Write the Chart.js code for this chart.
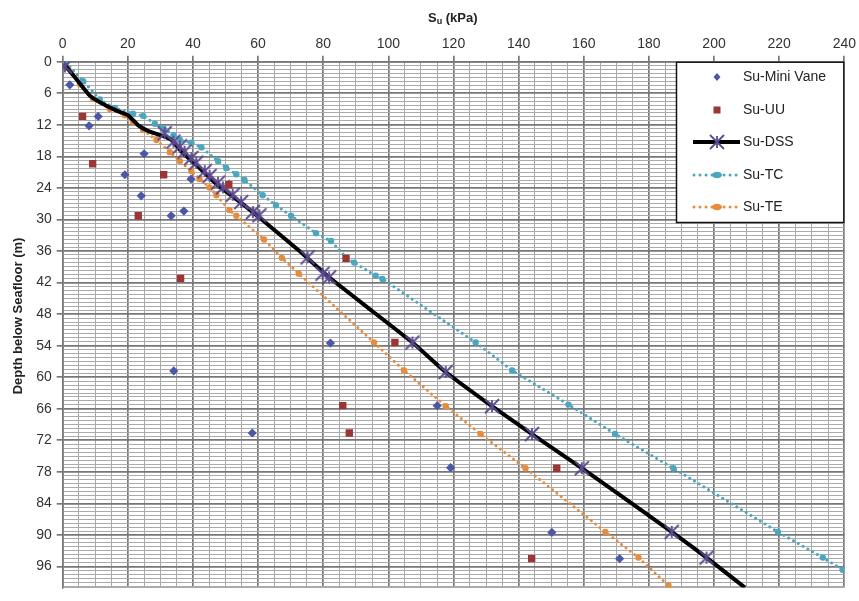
<!DOCTYPE html>
<html><head><meta charset="utf-8">
<script src="https://cdn.jsdelivr.net/npm/chart.js@4.4.0/dist/chart.umd.min.js"></script>
<style>html,body{margin:0;padding:0;background:#fff;}#wrap{width:859px;height:601px;}</style>
</head><body><div id="wrap"><canvas id="c" width="859" height="601"></canvas></div>
<script>
// ---- tick labels ----
const xTickLabels = [0,20,40,60,80,100,120,140,160,180,200,220,240];
const yTickLabels = [0,6,12,18,24,30,36,42,48,54,60,66,72,78,84,90,96];

// ---- series (kPa, depth m) ----
const miniVaneKPa   = [2.2,10.9,8.1,25,19.1,39.4,24.1,33.3,37.2,82.2,34.1,115,58.2,119.1,150.2,171];
const miniVaneDepth = [4.4,10.4,12.2,17.5,21.5,22.3,25.5,29.3,28.4,53.5,58.8,65.4,70.6,77.2,89.5,94.5];

const uuKPa   = [6.1,9.2,31,51,23.2,87,36.2,102,86,88,151.7,144];
const uuDepth = [10.4,19.4,21.5,23.4,29.3,37.4,41.2,53.4,65.4,70.6,77.3,94.5];

const dssLineKPa   = [0.5,4.3,8.4,11.4,16.5,20.1,23,26.7,30.8,33.4,36.9,42,47.2,54.3,61.5,72.7,81.8,95,107.4,117.6,131.8,144.1,159.4,187,197.7,209.5];
const dssLineDepth = [0.5,3.4,6.5,7.7,9.3,10.2,12,13.3,14.1,14.9,17.4,20.2,23.3,26.6,30.2,36,41,47.4,53.4,59,65.5,70.8,77.3,89.4,94.3,100];

const dssMarkKPa   = [0.7,31.3,34,36,37.4,39.5,41,43.6,45.1,47.7,49.2,52.2,54.8,58.4,60.4,75.2,79.8,81.8,107.4,117.6,131.8,144.1,159.4,187,197.7];
const dssMarkDepth = [0.9,13.6,15.2,16.1,17.1,18.3,19.2,20.8,21.7,23,23.9,25.3,26.7,28.6,29.2,37.2,40.3,41,53.4,59,65.5,70.8,77.3,89.4,94.3];

const tcKPa   = [1,6.3,11.4,16,21.6,24.7,28.3,31,34,36,39.5,42.6,47.7,50.2,53.3,55.8,61.4,65.5,70.1,77.8,82.4,87,89.5,96.1,98.2,126.8,138,155.3,169.6,187.5,219.6,233.4,239.5];
const tcDepth = [0.2,3.7,7.2,8.8,9.9,10.3,11.8,12.7,14,14.9,15.4,16.3,18.9,20.2,21.4,22.5,25.4,27.3,29.3,32.6,34.1,37.2,38.2,40.7,41.3,53.4,58.7,65.2,70.8,77.3,89.4,94.3,96.6];

const teKPa   = [1.7,5.3,9.4,14.5,19.1,21.6,24.7,28.8,32.9,36,39.5,42,45.1,47.2,51.2,53.3,61.8,67.3,72.5,95.6,104.8,117.6,128.3,142.1,166.6,176.8,186];
const teDepth = [1.2,4.3,7.1,9,10.2,11.5,13,14.9,17.2,18.9,20.8,22.3,23.9,25.4,28.2,29.3,33.8,37.3,40.3,53.4,58.7,65.5,70.8,77.3,89.4,94.3,99.6];

const seriesNames = ['Su-Mini Vane','Su-UU','Su-DSS','Su-TC','Su-TE'];

const pts = (xs, ys) => xs.map((x, i) => ({x, y: ys[i]}));

const C_MV = '#4a58a6', C_UU = '#9a3634', C_DSS = '#5b4a90', C_TC = '#4ba6bf', C_TE = '#e68c3c';

function makeStar(color, size) {
  const c = document.createElement('canvas');
  c.width = size; c.height = size;
  const g = c.getContext('2d');
  g.strokeStyle = color; g.lineWidth = 1.8;
  const a = 2, b = size - 2, m = size / 2;
  g.beginPath();
  g.moveTo(a, a); g.lineTo(b, b);
  g.moveTo(b, a); g.lineTo(a, b);
  g.moveTo(m, a + 1); g.lineTo(m, b - 1);
  g.stroke();
  return c;
}
const starImg = makeStar(C_DSS, 18);

const near = (v, arr) => arr.some(a => Math.abs(a - v) < 1e-6);

const customDraw = {
  id: 'customDraw',
  afterDatasetsDraw(chart) {
    const ctx = chart.ctx;
    const L = 676, T = chart.chartArea.top, R = chart.chartArea.right, B = 223;
    ctx.save();
    ctx.fillStyle = '#ffffff';
    ctx.fillRect(L, T, R - L, B - T);
    ctx.strokeStyle = '#111'; ctx.lineWidth = 1.5;
    ctx.strokeRect(L + 0.5, T + 0.5, R - L - 1, B - T - 1);
    const ys = [77, 110, 142, 175, 207];
    const mx = 717, x0 = 693, x1 = 740, tx = 743;
    ctx.fillStyle = C_MV;
    ctx.beginPath(); ctx.moveTo(mx, ys[0] - 4); ctx.lineTo(mx + 3.5, ys[0]); ctx.lineTo(mx, ys[0] + 4); ctx.lineTo(mx - 3.5, ys[0]); ctx.closePath(); ctx.fill();
    ctx.fillStyle = C_UU; ctx.fillRect(mx - 3.5, ys[1] - 3.5, 7, 7);
    ctx.strokeStyle = '#000'; ctx.lineWidth = 4; ctx.lineCap = 'butt';
    ctx.beginPath(); ctx.moveTo(x0, ys[2]); ctx.lineTo(x1, ys[2]); ctx.stroke();
    ctx.drawImage(starImg, mx - 9, ys[2] - 9);
    [[C_TC, ys[3]], [C_TE, ys[4]]].forEach(([col, y]) => {
      ctx.strokeStyle = col; ctx.lineWidth = 3; ctx.lineCap = 'round';
      ctx.setLineDash([0.01, 6]);
      ctx.beginPath(); ctx.moveTo(x0 + 1, y); ctx.lineTo(x1, y); ctx.stroke();
      ctx.setLineDash([]);
      ctx.fillStyle = col;
      ctx.beginPath(); ctx.ellipse(mx, y, 5, 3.2, 0, 0, Math.PI * 2); ctx.fill();
    });
    ctx.fillStyle = '#222'; ctx.font = '14px "Liberation Sans", Arial, sans-serif';
    ctx.textAlign = 'left'; ctx.textBaseline = 'middle';
    seriesNames.forEach((n, i) => ctx.fillText(n, tx, ys[i]));
    ctx.restore();
  },
  afterDraw(chart) {
    const ctx = chart.ctx;
    ctx.save();
    ctx.fillStyle = '#222';
    ctx.textBaseline = 'alphabetic'; ctx.textAlign = 'left';
    const bold = 'bold 13px "Liberation Sans", Arial, sans-serif';
    const sub = 'bold 9px "Liberation Sans", Arial, sans-serif';
    let x = 428, base = 21.5;
    ctx.font = bold; ctx.fillText('S', x, base); x += ctx.measureText('S').width;
    ctx.font = sub; ctx.fillText('u', x, base + 2.5); x += ctx.measureText('u').width;
    ctx.font = bold; ctx.fillText(' (kPa)', x, base);
    ctx.translate(18, 316);
    ctx.rotate(-Math.PI / 2);
    ctx.textAlign = 'center'; ctx.textBaseline = 'middle';
    ctx.font = bold;
    ctx.fillText('Depth below Seafloor (m)', 0, 0);
    ctx.restore();
  }
};

new Chart(document.getElementById('c'), {
  type: 'scatter',
  data: {
    datasets: [
      { label: seriesNames[0], data: pts(miniVaneKPa, miniVaneDepth), pointStyle: 'rectRot', pointRadius: 4.6,
        backgroundColor: C_MV, borderColor: C_MV, borderWidth: 0, showLine: false, order: 1 },
      { label: seriesNames[1], data: pts(uuKPa, uuDepth), pointStyle: 'rect', pointRadius: 5.2,
        backgroundColor: C_UU, borderColor: C_UU, borderWidth: 0, showLine: false, order: 2 },
      { label: seriesNames[2] + ' markers', data: pts(dssMarkKPa, dssMarkDepth), pointStyle: starImg,
        showLine: false, order: 3 },
      { label: seriesNames[2], data: pts(dssLineKPa, dssLineDepth), showLine: true, borderColor: '#000',
        borderWidth: 4, pointRadius: 0, tension: 0.15, order: 4 },
      { label: seriesNames[3], data: pts(tcKPa, tcDepth), showLine: true, borderColor: C_TC, backgroundColor: C_TC,
        borderWidth: 3, borderDash: [0.01, 5.5], borderCapStyle: 'round', pointRadius: 3.2, pointBorderWidth: 0, order: 5 },
      { label: seriesNames[4], data: pts(teKPa, teDepth), showLine: true, borderColor: C_TE, backgroundColor: C_TE,
        borderWidth: 3, borderDash: [0.01, 5.5], borderCapStyle: 'round', pointRadius: 3.2, pointBorderWidth: 0, order: 6 }
    ]
  },
  options: {
    responsive: false, animation: false, devicePixelRatio: 1,
    layout: { padding: { top: 0, left: 0, right: 13.5, bottom: 2 } },
    plugins: { legend: { display: false }, tooltip: { enabled: false } },
    scales: {
      x: {
        type: 'linear', position: 'top', min: 0, max: 240,
        afterBuildTicks: s => { const t = []; for (let v = 0; v <= 240; v += 5) t.push({ value: v }); s.ticks = t; },
        afterFit: s => { s.height = 61.7; },
        ticks: { autoSkip: false, maxRotation: 0, padding: 3, color: '#333',
          font: { family: '"Liberation Sans", Arial, sans-serif', size: 14 },
          callback: v => near(v, xTickLabels) ? String(v) : '' },
        grid: { drawOnChartArea: true, tickLength: 6,
          color: c => (c.tick && near(c.tick.value, xTickLabels)) ? '#777777' : '#a8a8a8',
          lineWidth: c => (c.tick && near(c.tick.value, xTickLabels)) ? 1.7 : 1,
          tickColor: c => (c.tick && near(c.tick.value, xTickLabels)) ? '#777777' : 'rgba(0,0,0,0)' },
        border: { display: true, color: '#777777', width: 1.5 },
        title: { display: false }
      },
      y: {
        type: 'linear', reverse: true, min: 0, max: 100,
        afterBuildTicks: s => { const t = []; for (let k = 0; k <= 133; k++) t.push({ value: Math.round(k * 75) / 100 }); t.push({ value: 100 }); s.ticks = t; },
        afterFit: s => { s.width = 62.7; },
        ticks: { autoSkip: false, padding: 5, color: '#333',
          font: { family: '"Liberation Sans", Arial, sans-serif', size: 14 },
          callback: v => near(v, yTickLabels) ? String(v) : '' },
        grid: { drawOnChartArea: true, tickLength: 6,
          color: c => (c.tick && near(c.tick.value, yTickLabels)) ? '#777777' : '#ababab',
          lineWidth: c => (c.tick && near(c.tick.value, yTickLabels)) ? 1.7 : 1,
          tickColor: c => (c.tick && near(c.tick.value, yTickLabels)) ? '#777777' : 'rgba(0,0,0,0)' },
        border: { display: true, color: '#777777', width: 1.5 },
        title: { display: false }
      }
    }
  },
  plugins: [customDraw]
});
</script>
</body></html>
